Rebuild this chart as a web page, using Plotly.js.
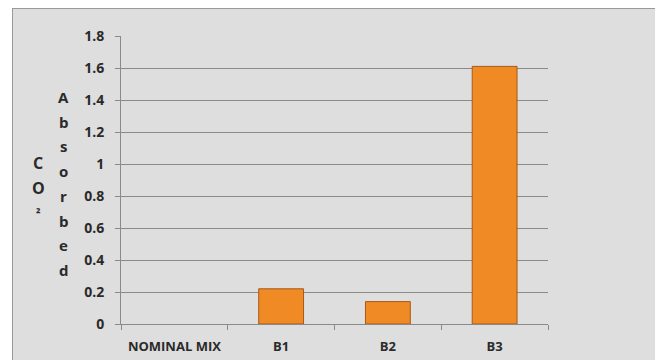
<!DOCTYPE html>
<html>
<head>
<meta charset="utf-8">
<script src="https://cdn.plot.ly/plotly-3.0.1.min.js"></script>
<style>
  html, body { margin: 0; padding: 0; background: #ffffff; }
  #wrap { position: relative; width: 655px; height: 360px; overflow: hidden; }
  #bg { position: absolute; left: 12px; top: 8px; width: 660px; height: 370px;
        background: #dedede; border-left: 1px solid #9a9a9a; border-top: 1px solid #9a9a9a; }
  #chart { position: absolute; left: 0; top: 0; width: 655px; height: 360px; }
</style>
</head>
<body>
<div id="wrap">
  <div id="bg"></div>
  <div id="chart"></div>
</div>
<script>
// Data
const categories = ["NOMINAL MIX", "B1", "B2", "B3"];
const co2Absorbed = [0, 0.22, 0.14, 1.61];
const yTickValues = [0, 0.2, 0.4, 0.6, 0.8, 1, 1.2, 1.4, 1.6, 1.8];
const yTickLabels = ["0", "0.2", "0.4", "0.6", "0.8", "1", "1.2", "1.4", "1.6", "1.8"];
const titleLeftColumn = ["C", "O", "₂"];
const titleRightColumn = ["A", "b", "s", "o", "r", "b", "e", "d"];

const fontFam = "'Open Sans', 'Liberation Sans', sans-serif";
const textColor = "#2a2a2a";

const W = 655, H = 360;
const margin = { l: 121, r: 107, t: 36, b: 36 };

function px2paperX(px) { return (px - margin.l) / (W - margin.l - margin.r); }
function px2paperY(py) { return (H - margin.b - py) / (H - margin.t - margin.b); }

const annotations = [];
titleRightColumn.forEach((ch, i) => {
  annotations.push({
    text: "<b>" + ch + "</b>", xref: "paper", yref: "paper",
    x: px2paperX(64), y: px2paperY(97 + i * 24.7),
    xanchor: "center", yanchor: "middle", showarrow: false,
    font: { family: fontFam, size: 15, color: textColor }
  });
});
const leftY = [163, 188, 207];
titleLeftColumn.forEach((ch, i) => {
  annotations.push({
    text: "<b>" + ch + "</b>", xref: "paper", yref: "paper",
    x: px2paperX(38), y: px2paperY(leftY[i]),
    xanchor: "center", yanchor: "middle", showarrow: false,
    font: { family: fontFam, size: i === 2 ? 12 : 16, color: textColor }
  });
});

const trace = {
  type: "bar",
  x: categories,
  y: co2Absorbed,
  marker: {
    color: "#f08a24",
    line: { color: "#a9581a", width: co2Absorbed.map(v => (v > 0 ? 1 : 0)) }
  },
  hoverinfo: "x+y"
};

const layout = {
  width: W, height: H,
  margin: margin,
  paper_bgcolor: "rgba(0,0,0,0)",
  plot_bgcolor: "rgba(0,0,0,0)",
  showlegend: false,
  bargap: 0.58,
  font: { family: fontFam, color: textColor },
  xaxis: {
    type: "category",
    showgrid: false,
    showline: true, linecolor: "#8a8a8a", linewidth: 1,
    ticks: "outside", tickson: "boundaries", ticklen: 5, tickcolor: "#8a8a8a",
    ticklabelstandoff: 10, tickangle: 0, automargin: false,
    tickfont: { family: fontFam, size: 13, color: textColor, weight: "bold" },
    zeroline: false
  },
  yaxis: {
    range: [0, 1.8],
    tickvals: yTickValues, ticktext: yTickLabels,
    showgrid: true, gridcolor: "#8a8a8a", gridwidth: 1,
    showline: true, linecolor: "#8a8a8a", linewidth: 1,
    ticks: "outside", ticklen: 5, tickcolor: "#8a8a8a",
    ticklabelstandoff: 8, automargin: false,
    tickfont: { family: fontFam, size: 14, color: textColor, weight: "bold" },
    zeroline: false
  },
  annotations: annotations
};

Plotly.newPlot("chart", [trace], layout, { displayModeBar: false, staticPlot: true });
</script>
</body>
</html>
